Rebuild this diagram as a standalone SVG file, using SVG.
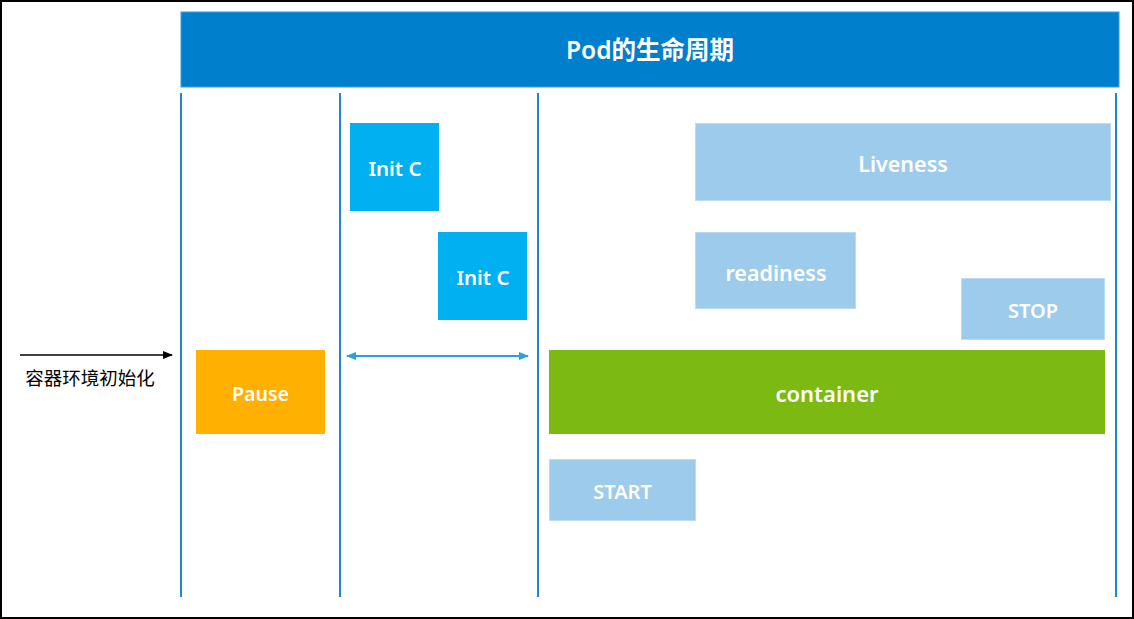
<svg xmlns="http://www.w3.org/2000/svg" width="1134" height="619" viewBox="0 0 1134 619">
<defs>
<style>
.lbl{font-family:"Noto Sans","Open Sans","Noto Sans CJK SC",sans-serif;font-weight:600;fill:#fff;text-anchor:middle;dominant-baseline:central}
.lt{fill:#9dcbec;stroke:#b9dbf3;stroke-width:1}
.vl{stroke:#1f86d3;stroke-width:2}
</style>
<marker id="ab" markerWidth="10" markerHeight="8" refX="9" refY="4" orient="auto" markerUnits="userSpaceOnUse"><path d="M0,0 L10,4 L0,8 Z" fill="#000"/></marker>
<marker id="bb" markerWidth="10" markerHeight="8" refX="9" refY="4" orient="auto-start-reverse" markerUnits="userSpaceOnUse"><path d="M0,0 L10,4 L0,8 Z" fill="#29a0e0"/></marker>
</defs>
<rect x="0" y="0" width="1134" height="619" fill="#fff"/>
<rect x="1" y="1" width="1132" height="617" fill="none" stroke="#000" stroke-width="2"/>
<g id="header"><rect x="181" y="12" width="938" height="75" fill="#0080cc" stroke="#3b9de0" stroke-width="1"/><text class="lbl" x="650" y="49" font-size="24.5" font-weight="500" font-family="'Noto Sans','Noto Sans CJK SC',sans-serif">Pod的生命周期</text></g>
<g id="lines">
<line class="vl" x1="181" y1="93" x2="181" y2="597"/>
<line class="vl" x1="340" y1="93" x2="340" y2="597"/>
<line class="vl" x1="538" y1="93" x2="538" y2="597"/>
<line class="vl" x1="1116" y1="93" x2="1116" y2="597"/>
</g>
<g id="connectors">
<line x1="20" y1="355" x2="172" y2="355" stroke="#000" stroke-width="1.5" marker-end="url(#ab)"/>
<line x1="347" y1="356" x2="528" y2="356" stroke="#29a0e0" stroke-width="2" marker-start="url(#bb)" marker-end="url(#bb)"/>
</g>
<g id="init-label"><text x="90" y="377" font-family="'Noto Sans CJK SC',sans-serif" font-weight="400" font-size="18.5" text-anchor="middle" dominant-baseline="central" fill="#000">容器环境初始化</text></g>
<g id="pause"><rect x="196" y="350" width="129" height="84" fill="#ffb000"/><text class="lbl" x="260.5" y="393" font-size="19.5">Pause</text></g>
<g id="initc1"><rect x="350" y="123" width="89" height="88" fill="#00b0f0"/><text class="lbl" x="395" y="168" font-size="20.5">Init C</text></g>
<g id="initc2"><rect x="438" y="232" width="89" height="88" fill="#00b0f0"/><text class="lbl" x="483" y="277" font-size="20.5">Init C</text></g>
<g id="liveness"><rect class="lt" x="695.5" y="123.5" width="415" height="77"/><text class="lbl" x="903" y="163" font-size="21.5">Liveness</text></g>
<g id="readiness"><rect class="lt" x="695.5" y="232.5" width="160" height="76"/><text class="lbl" x="776" y="272" font-size="21.5">readiness</text></g>
<g id="stop"><rect class="lt" x="961.5" y="278.5" width="143" height="61"/><text class="lbl" x="1033" y="310" font-size="20">STOP</text></g>
<g id="container"><rect x="549" y="350" width="556" height="84" fill="#7cb913"/><text class="lbl" x="827" y="393" font-size="22">container</text></g>
<g id="start"><rect class="lt" x="549.5" y="459.5" width="146" height="61"/><text class="lbl" x="622.5" y="491" font-size="20">START</text></g>
</svg>
